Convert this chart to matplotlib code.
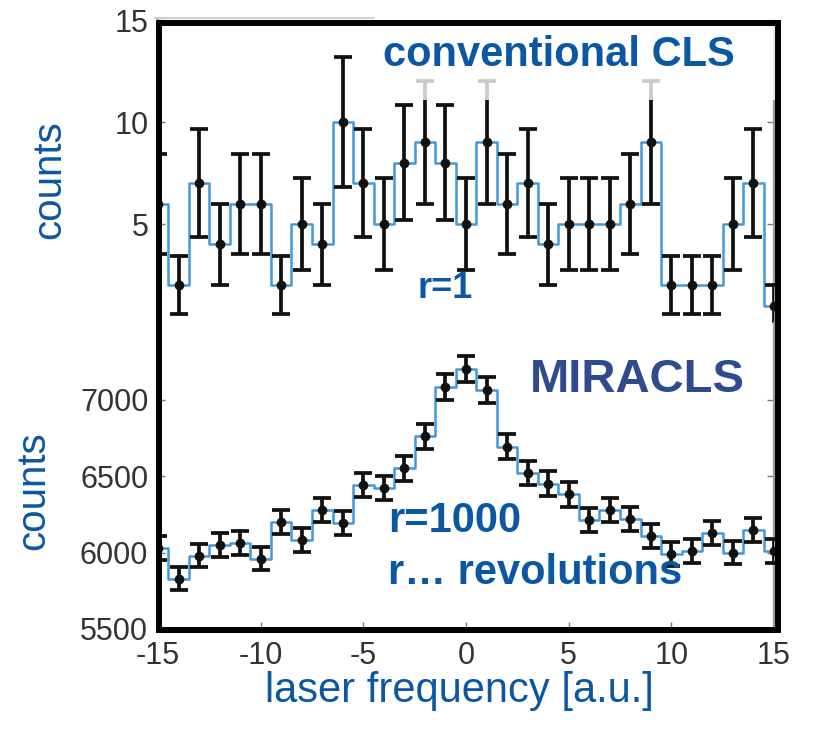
import numpy as np
import matplotlib
matplotlib.use("Agg")
import matplotlib.pyplot as plt
from matplotlib.patches import Rectangle
from matplotlib.lines import Line2D

plt.rcParams["font.family"] = ["Liberation Sans", "DejaVu Sans"]
plt.rcParams["axes.unicode_minus"] = False

# scan points (laser frequency, a.u.)
freq = np.arange(-15, 16)
# conventional CLS, single pass (r=1)
counts_cls = [6, 2, 7, 4, 6, 6, 2, 5, 4, 10, 7, 5, 8, 9, 8, 5,
              9, 6, 7, 4, 5, 5, 5, 6, 9, 2, 2, 2, 5, 7, 1]
# MIRACLS, r=1000 revolutions
counts_mir = [6030, 5830, 5980, 6050, 6060, 5960, 6200, 6080, 6280, 6190, 6440,
              6420, 6550, 6760, 7080, 7200, 7060, 6690, 6520, 6450, 6380, 6210,
              6280, 6220, 6110, 5990, 6010, 6130, 6000, 6150, 6010]

xticks = [-15, -10, -5, 0, 5, 10, 15]
yticks_cls = [5, 10, 15]
yticks_mir = [5500, 6000, 6500, 7000]

BLUE, NAVY, STEP, INK, TICK = "#0b57a3", "#2f4a8d", "#4298d8", "#111111", "#333333"
W, H = 825, 756


def fx(x):
    return x / W


def fy(y):
    return 1 - y / H


def panel(ax, y):
    y = np.asarray(y, float)
    ax.step(freq, y, where="mid", color=STEP, lw=1.8, zorder=3)
    # Poisson errors
    ax.errorbar(freq, y, yerr=np.sqrt(y), fmt="o", color=INK, ms=6,
                elinewidth=2.7, capsize=6.2, capthick=2.7, zorder=4)
    ax.set_xlim(-15, 15)
    ax.tick_params(direction="in", length=5, width=1, color="#777777",
                   labelsize=22, labelcolor=TICK, pad=7, right=True)
    for sp in ax.spines.values():
        sp.set_color("#9a9a9a")
        sp.set_linewidth(1.6)


fig = plt.figure(figsize=(8.25, 7.56), dpi=100)

ax1 = fig.add_axes([fx(158), fy(326), (774 - 158) / W, (326 - 20) / H])
panel(ax1, counts_cls)
ax1.set_ylim(0, 15)
ax1.set_yticks(yticks_cls)
ax1.set_xticks([])
ax1.spines["top"].set_visible(False)
# washed-out band behind the title
ax1.add_patch(Rectangle((0.355, 0.74), 0.66, 0.27, transform=ax1.transAxes,
                        facecolor="white", alpha=0.78, edgecolor="none",
                        zorder=5, clip_on=False))
ax1.text(fx(383), fy(66), "conventional CLS", transform=fig.transFigure,
         fontsize=30, fontweight="bold", color=BLUE, zorder=6)
ax1.text(fx(417), fy(298), "r=1", transform=fig.transFigure,
         fontsize=26, fontweight="bold", color=BLUE, zorder=6)

ax2 = fig.add_axes([fx(158), fy(629), (774 - 158) / W, (629 - 323) / H])
panel(ax2, counts_mir)
ax2.set_ylim(5500, 7500)
ax2.set_yticks(yticks_mir)
ax2.set_xticks(xticks)
ax2.tick_params(axis="x", pad=9)
ax2.spines["top"].set_visible(False)
ax2.text(fx(530), fy(392), "MIRACLS", transform=fig.transFigure,
         fontsize=34, fontweight="bold", color=NAVY, zorder=6)
ax2.text(fx(388), fy(532), "r=1000", transform=fig.transFigure,
         fontsize=30, fontweight="bold", color=BLUE, zorder=6)
ax2.text(fx(388), fy(584), "r\u2026 revolutions", transform=fig.transFigure,
         fontsize=30, fontweight="bold", color=BLUE, zorder=6)

fig.text(fx(49), fy(180), "counts", rotation=90, ha="center", va="center",
         fontsize=29, color=BLUE)
fig.text(fx(33), fy(491), "counts", rotation=90, ha="center", va="center",
         fontsize=29, color=BLUE)
fig.text(fx(459), fy(691), "laser frequency [a.u.]", ha="center", va="center",
         fontsize=30, color=BLUE)

# thick frame around both panels
fig.add_artist(Line2D([fx(155), fx(373)], [fy(18), fy(18)], color="#cfcfcf", lw=1.5))
fig.add_artist(Rectangle((fx(158.5), fy(630)), (777.5 - 158.5) / W, (630 - 23) / H,
                         transform=fig.transFigure, fill=False,
                         edgecolor="black", lw=4.3, zorder=10))

fig.savefig("out.png", dpi=100, facecolor="white")
